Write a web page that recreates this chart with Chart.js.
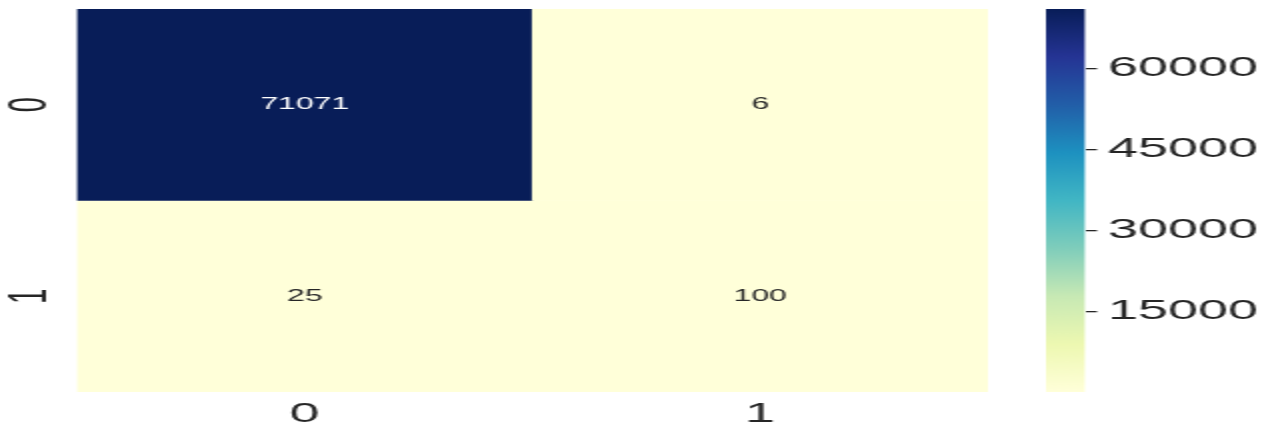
<!DOCTYPE html>
<html>
<head>
<meta charset="utf-8">
<script src="https://cdn.jsdelivr.net/npm/chart.js@4.4.1/dist/chart.umd.min.js"></script>
<style>
  html, body { margin: 0; padding: 0; background: #fff; overflow: hidden; }
  #wrap { position: relative; width: 1267px; height: 423px; }
  canvas { position: absolute; top: 0; }
</style>
</head>
<body>
<div id="wrap">
  <!-- the picture is stretched sideways, so draw at half width and scale 2x -->
  <canvas id="heat" width="510" height="423" style="left:0;width:1020px;height:423px"></canvas>
  <canvas id="bar" width="123" height="423" style="left:1020px;width:246px;height:423px"></canvas>
</div>
<script>
const rowLabels = ['0', '1']
const colLabels = ['0', '1']
const row0 = [71071, 6]
const row1 = [25, 100]
const cbTicks = [15000, 30000, 45000, 60000]

const matrix = [row0, row1]
const vmin = Math.min(...row0, ...row1)
const vmax = Math.max(...row0, ...row1)
const norm = v => (v - vmin) / (vmax - vmin)

// YlGnBu
const ylgnbu = ['#ffffd9', '#edf8b1', '#c7e9b4', '#7fcdbb', '#41b6c4', '#1d91c0', '#225ea8', '#253494', '#081d58']
const hexToRgb = h => [1, 3, 5].map(i => parseInt(h.slice(i, i + 2), 16))
const cmap = (t) => {
    t = Math.min(1, Math.max(0, t))
    const pos = t * (ylgnbu.length - 1)
    const i = Math.min(Math.floor(pos), ylgnbu.length - 2)
    const f = pos - i
    const a = hexToRgb(ylgnbu[i]), b = hexToRgb(ylgnbu[i + 1])
    return `rgb(${a.map((v, k) => Math.round(v + (b[k] - v) * f)).join(',')})`
}

const textColor = '#262626'
const family = '"Liberation Sans", Arial, sans-serif'
const tickFont = { family: family, size: 27 }

const noPad = s => { s.paddingTop = 0; s.paddingBottom = 0; s.paddingLeft = 0; s.paddingRight = 0 }

const annotate = {
    id: 'annotate',
    afterDatasetsDraw(chart) {
        const ctx = chart.ctx
        ctx.save()
        ctx.font = `16px ${family}`
        ctx.textAlign = 'center'
        ctx.textBaseline = 'middle'
        chart.data.datasets.forEach((ds, r) => {
            chart.getDatasetMeta(r).data.forEach((bar, c) => {
                const v = matrix[r][c]
                const p = bar.getCenterPoint()
                ctx.fillStyle = norm(v) > 0.5 ? '#ffffff' : textColor
                ctx.fillText(String(v), p.x, p.y)
            })
        })
        ctx.restore()
    }
}

new Chart(document.getElementById('heat'), {
    type: 'bar',
    data: {
        labels: colLabels,
        datasets: matrix.map((row, r) => ({
            label: rowLabels[r],
            data: row.map(() => [r, r + 1]),
            backgroundColor: row.map(v => cmap(norm(v))),
            borderWidth: 0,
            barPercentage: 1,
            categoryPercentage: 1,
            grouped: false
        }))
    },
    options: {
        responsive: false,
        devicePixelRatio: 1,
        animation: false,
        layout: { padding: { top: 9, right: 16, left: 0, bottom: 0 } },
        plugins: { legend: { display: false }, tooltip: { enabled: false } },
        scales: {
            x: {
                grid: { display: false },
                border: { display: false },
                ticks: { font: tickFont, color: textColor, padding: -2 },
                afterFit: s => { s.height = 31; noPad(s) }
            },
            y: {
                min: 0,
                max: 2,
                reverse: true,
                grid: { display: false },
                border: { display: false },
                afterBuildTicks: s => { s.ticks = rowLabels.map((_, i) => ({ value: i + 0.5 })) },
                ticks: {
                    font: tickFont,
                    color: textColor,
                    minRotation: 90,
                    maxRotation: 90,
                    crossAlign: 'center',
                    padding: 7,
                    callback: v => rowLabels[Math.floor(v)]
                },
                afterFit: s => { s.width = 38.5; noPad(s) }
            }
        }
    },
    plugins: [annotate]
})

new Chart(document.getElementById('bar'), {
    type: 'bar',
    data: {
        labels: [''],
        datasets: [{
            data: [[vmin, vmax]],
            backgroundColor: (c) => {
                const area = c.chart.chartArea
                if (!area) return ylgnbu[0]
                const g = c.chart.ctx.createLinearGradient(0, area.bottom, 0, area.top)
                ylgnbu.forEach((col, i) => g.addColorStop(i / (ylgnbu.length - 1), col))
                return g
            },
            borderWidth: 0,
            barPercentage: 1,
            categoryPercentage: 1
        }]
    },
    options: {
        responsive: false,
        devicePixelRatio: 1,
        animation: false,
        layout: { padding: { top: 9, bottom: 31, left: 13, right: 0 } },
        plugins: { legend: { display: false }, tooltip: { enabled: false } },
        scales: {
            x: { display: false },
            y: {
                position: 'right',
                min: vmin,
                max: vmax,
                grid: { drawOnChartArea: false, tickLength: 6, color: textColor, lineWidth: 1.3 },
                border: { display: false },
                afterBuildTicks: s => { s.ticks = cbTicks.map(v => ({ value: v })) },
                ticks: { font: tickFont, color: textColor, padding: 5.5, callback: v => String(v) },
                afterFit: s => { s.width = 90.5; noPad(s) }
            }
        }
    }
})
</script>
</body>
</html>
